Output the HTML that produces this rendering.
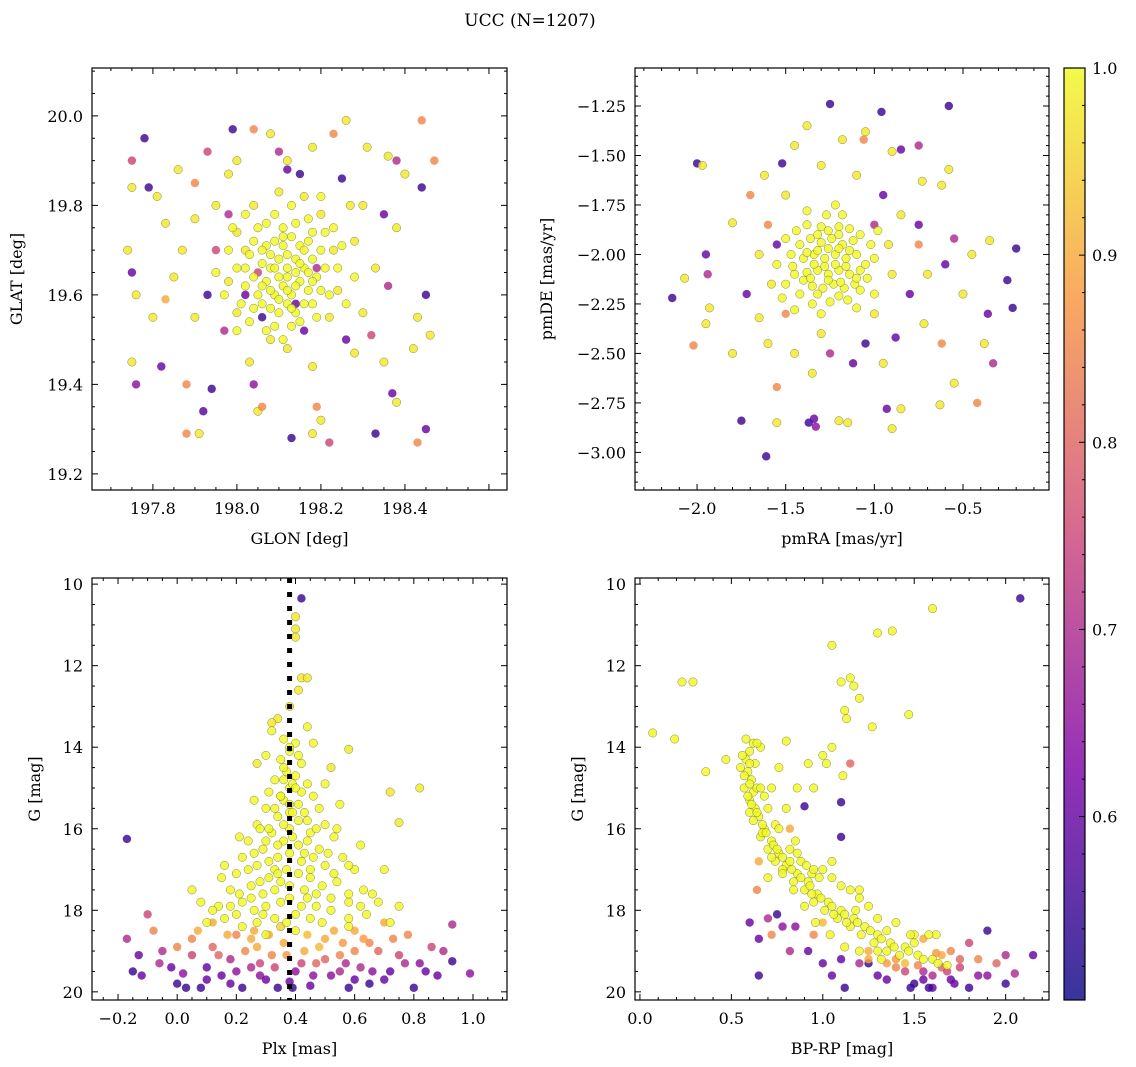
<!DOCTYPE html>
<html><head><meta charset="utf-8"><style>
html,body{margin:0;padding:0;background:#fff;}
svg{display:block;font-family:"DejaVu Serif","Liberation Serif",serif;}
</style></head><body>
<svg id="fig" width="1136" height="1067" viewBox="0 0 1136 1067" xmlns="http://www.w3.org/2000/svg">
<text x="530" y="26" font-size="17" text-anchor="middle">UCC (N=1207)</text>
</svg>
<script>
// ---- Panel 1: GLON / GLAT ----
const glonOut=[197.75,197.78,197.75,197.79,197.74,197.75,197.76,197.75,197.76,197.80,197.82,197.83,197.88,197.88,197.91,197.92,197.94,197.90,197.93,197.99,198.00,197.93,197.95,197.87,197.90,197.97,198.03,198.05,198.06,198.04,198.13,198.18,198.22,198.20,198.19,198.18,198.26,198.28,198.33,198.37,198.38,198.43,198.45,198.42,198.46,198.45,198.43,198.47,198.44,198.44,198.40,198.38,198.36,198.31,198.26,198.23,198.18,198.12,198.08,198.10,198.04,197.98,197.86,197.81,198.30,198.35,198.38,198.33,198.36,198.30,198.35,198.32,198.28,198.25,198.27,197.95,197.90,197.98,198.00,197.85,197.83,197.98,198.02,198.00,198.08,198.12,198.16,198.22,198.24,198.23,198.20,198.16,198.10,198.04,198.02,198.12,198.15,198.06,198.14,198.19,198.05];
const glatOut=[19.90,19.95,19.84,19.84,19.70,19.65,19.60,19.45,19.40,19.55,19.44,19.76,19.40,19.29,19.29,19.34,19.39,19.85,19.92,19.97,19.90,19.60,19.70,19.70,19.55,19.52,19.45,19.34,19.35,19.40,19.28,19.29,19.27,19.32,19.35,19.44,19.50,19.47,19.29,19.38,19.36,19.27,19.30,19.48,19.51,19.60,19.55,19.90,19.99,19.84,19.87,19.90,19.91,19.93,19.99,19.96,19.93,19.90,19.96,19.92,19.97,19.87,19.88,19.82,19.80,19.78,19.75,19.66,19.62,19.56,19.45,19.51,19.72,19.86,19.80,19.80,19.77,19.78,19.74,19.64,19.59,19.63,19.60,19.56,19.50,19.48,19.52,19.55,19.61,19.70,19.78,19.82,19.83,19.80,19.70,19.88,19.87,19.55,19.58,19.66,19.65];
const probOut1=[0.75,0.55,0.98,0.55,0.98,0.6,0.98,0.98,0.65,0.98,0.6,0.98,0.85,0.85,0.98,0.58,0.55,0.85,0.75,0.55,0.98,0.55,0.75,0.98,0.98,0.7,0.98,0.98,0.85,0.65,0.55,0.98,0.75,0.98,0.85,0.98,0.6,0.98,0.55,0.6,0.98,0.85,0.6,0.98,0.98,0.55,0.98,0.85,0.85,0.55,0.98,0.7,0.98,0.98,0.98,0.85,0.98,0.98,0.98,0.7,0.85,0.98,0.98,0.98,0.98,0.6,0.98,0.98,0.7,0.98,0.98,0.75,0.98,0.55,0.98,0.98,0.98,0.7,0.98,0.98,0.9,0.98,0.6,0.98,0.98,0.98,0.6,0.98,0.98,0.98,0.98,0.98,0.98,0.98,0.98,0.6,0.55,0.55,0.6,0.7,0.75];
const glonCore=[198.05,198.07,198.09,198.11,198.13,198.15,198.17,198.06,198.08,198.10,198.12,198.14,198.16,198.18,198.07,198.09,198.11,198.13,198.15,198.17,198.08,198.10,198.12,198.14,198.16,198.04,198.19,198.20,198.03,198.10,198.12,198.14,198.11,198.14,198.07,198.18,198.06,198.21,198.02,198.09,198.13,
198.02,198.04,198.06,198.08,198.10,198.12,198.14,198.16,198.18,198.20,198.05,198.09,198.13,198.17,198.21,198.00,198.01,198.03,198.07,198.11,198.15,198.19,198.22,198.24,198.23,197.98,197.97,198.08,198.12,198.15,198.09,198.06,198.17,198.13,198.11,198.18,198.04,198.25,197.99,198.26,198.02,198.20,197.95,198.28,198.00];
const glatCore=[19.60,19.63,19.60,19.62,19.60,19.63,19.61,19.67,19.66,19.68,19.66,19.68,19.66,19.68,19.71,19.72,19.71,19.73,19.71,19.72,19.57,19.56,19.58,19.56,19.58,19.64,19.64,19.70,19.69,19.64,19.64,19.65,19.75,19.76,19.76,19.58,19.58,19.66,19.66,19.53,19.53,
19.62,19.72,19.62,19.69,19.59,19.69,19.62,19.70,19.63,19.61,19.75,19.78,19.80,19.77,19.74,19.66,19.58,19.54,19.52,19.50,19.54,19.55,19.60,19.66,19.75,19.70,19.60,19.61,19.61,19.67,19.66,19.70,19.65,19.57,19.73,19.74,19.57,19.71,19.75,19.58,19.78,19.82,19.65,19.64,19.52];
const glonTicks=[197.8,198.0,198.2,198.4];
const glatTicks=[19.2,19.4,19.6,19.8,20.0];

// ---- Panel 2: pmRA / pmDE ----
const pmraOut=[-2.0,-1.97,-2.14,-2.07,-1.95,-1.94,-2.02,-1.95,-1.93,-1.75,-1.61,-1.55,-1.55,-1.37,-1.34,-1.33,-1.2,-1.15,-0.9,-0.93,-0.85,-0.63,-0.55,-0.42,-0.38,-0.33,-0.36,-0.22,-0.25,-0.2,-0.35,-0.55,-0.62,-0.58,-0.58,-0.73,-0.75,-0.85,-0.9,-0.96,-1.05,-1.06,-1.18,-1.25,-1.38,-1.45,-1.52,-1.62,-1.7,-1.8,-1.72,-1.65,-1.6,-1.45,-1.35,-1.12,-1.05,-0.95,-0.88,-0.72,-0.62,-0.8,-0.7,-0.6,-0.75,-0.85,-0.75,-0.95,-1.1,-1.3,-1.5,-1.6,-1.65,-1.58,-1.5,-1.3,-1.0,-0.9,-0.92,-1.0,-1.55,-1.25,-0.5,-0.45,-1.8];
const pmdeOut=[-1.54,-1.55,-2.22,-2.12,-2.0,-2.1,-2.46,-2.35,-2.27,-2.84,-3.02,-2.67,-2.85,-2.85,-2.83,-2.87,-2.84,-2.85,-2.88,-2.78,-2.78,-2.76,-2.65,-2.75,-2.45,-2.55,-2.3,-2.27,-2.13,-1.97,-1.93,-1.92,-1.65,-1.57,-1.25,-1.63,-1.45,-1.47,-1.48,-1.28,-1.38,-1.42,-1.42,-1.24,-1.35,-1.45,-1.54,-1.6,-1.7,-1.84,-2.2,-2.32,-2.45,-2.5,-2.6,-2.55,-2.45,-2.55,-2.42,-2.35,-2.45,-2.2,-2.1,-2.05,-1.95,-1.8,-1.85,-1.7,-1.6,-1.55,-1.7,-1.85,-2.0,-2.15,-2.3,-2.4,-2.3,-2.1,-1.95,-1.85,-1.95,-2.5,-2.2,-2.0,-2.5];
const probOut2=[0.55,0.98,0.55,0.98,0.6,0.7,0.85,0.98,0.98,0.55,0.55,0.85,0.98,0.55,0.6,0.65,0.98,0.98,0.98,0.6,0.98,0.98,0.98,0.85,0.98,0.7,0.6,0.55,0.55,0.55,0.98,0.7,0.98,0.98,0.55,0.98,0.7,0.6,0.98,0.55,0.98,0.85,0.98,0.55,0.98,0.98,0.55,0.98,0.85,0.98,0.6,0.98,0.98,0.98,0.98,0.6,0.55,0.98,0.6,0.98,0.85,0.6,0.98,0.6,0.85,0.98,0.6,0.6,0.98,0.98,0.98,0.85,0.98,0.98,0.85,0.98,0.98,0.98,0.98,0.7,0.6,0.7,0.98,0.98,0.98];
const pmraCore=[-1.42,-1.36,-1.30,-1.24,-1.18,-1.12,-1.40,-1.34,-1.28,-1.22,-1.16,-1.10,-1.38,-1.32,-1.26,-1.20,-1.14,-1.08,-1.35,-1.29,-1.23,-1.17,-1.11,-1.30,-1.20,-1.45,-1.05,-1.25,-1.15,-1.35,-1.27,-1.47,-1.02,
-1.44,-1.38,-1.32,-1.26,-1.20,-1.14,-1.08,-1.46,-1.40,-1.34,-1.28,-1.22,-1.16,-1.10,-1.04,-1.50,-1.42,-1.32,-1.20,-1.08,-1.26,-1.20,-1.32,-1.14,-1.38,-1.50,-1.55,-1.00,-1.45,-1.30,-1.10,-1.18,-1.38,-1.00,-1.52,-0.98,-1.26,-1.19,-1.36,-1.22];
const pmdeCore=[-1.95,-1.92,-1.94,-1.92,-1.95,-1.93,-2.02,-2.0,-2.02,-2.0,-2.02,-2.0,-2.09,-2.08,-2.10,-2.08,-2.10,-2.08,-2.16,-2.17,-2.15,-2.17,-2.15,-1.86,-1.86,-2.10,-2.05,-2.24,-2.23,-2.25,-1.80,-2.0,-1.95,
-1.88,-1.85,-1.90,-1.88,-1.90,-1.87,-1.90,-2.06,-2.13,-2.05,-2.06,-2.05,-2.06,-2.12,-2.12,-2.15,-2.20,-2.20,-2.21,-2.18,-1.97,-1.97,-1.98,-1.98,-1.99,-1.92,-2.05,-2.02,-2.28,-2.30,-2.27,-1.80,-1.78,-2.20,-2.22,-1.88,-2.13,-2.14,-2.12,-1.75];
const pmraTicks=[-2.0,-1.5,-1.0,-0.5];
const pmdeTicks=[-3.0,-2.75,-2.5,-2.25,-2.0,-1.75,-1.5,-1.25];

// ---- Panel 3: Plx / G ----
const plxVals=[0.42,0.40,0.40,0.40,0.42,0.44,0.41,0.34,0.32,0.38,0.58,0.72,0.82,0.75,-0.17,0.27,0.52,
-0.15,-0.13,-0.17,-0.1,-0.08,-0.05,-0.02,0.0,0.02,0.05,0.05,0.08,0.1,0.12,0.15,0.18,0.2,0.22,0.25,0.27,0.3,0.32,0.34,0.36,0.4,0.43,0.45,0.47,0.5,0.52,0.55,0.58,0.6,0.62,0.65,0.68,0.7,0.72,0.75,0.78,0.8,0.82,0.86,0.88,0.93,0.93,0.99,0.35,0.48,0.25,0.12,0.65,0.42,0.28,0.55,0.18,0.6,0.38,
-0.12,-0.06,0.0,0.03,0.07,0.1,0.14,0.17,0.2,0.23,0.28,0.31,0.33,0.37,0.39,0.44,0.46,0.5,0.53,0.57,0.6,0.63,0.66,0.7,0.73,0.77,0.84,0.9,0.56,0.26];
const gPlxVals=[10.35,10.8,11.1,11.3,12.3,12.3,12.6,13.3,13.4,13.0,14.05,15.1,15.0,15.85,16.25,14.4,14.5,
19.5,19.1,18.7,18.1,18.5,19.0,19.4,19.8,19.55,19.1,18.7,19.9,19.4,18.9,19.6,19.2,18.6,19.9,19.4,18.9,19.7,19.1,19.9,18.8,19.5,19.0,19.85,19.3,18.7,19.6,19.1,19.9,18.5,19.4,19.8,19.0,18.3,19.5,19.1,18.6,19.9,19.3,18.9,19.6,19.25,18.35,19.55,18.4,18.9,18.7,18.3,18.8,19.3,19.3,19.5,19.8,19.7,19.75,
19.6,19.3,18.9,19.9,18.5,19.7,19.1,18.6,19.5,19.0,19.6,18.6,19.4,19.1,19.9,18.6,19.6,19.2,18.5,19.3,19.0,18.7,19.5,19.7,18.7,19.3,19.5,19.0,18.8,18.5];
const probPlx=[0.55,0.98,0.98,0.98,0.98,0.98,0.98,0.98,0.98,0.98,0.98,0.98,0.98,0.98,0.55,0.98,0.98,
0.55,0.6,0.7,0.75,0.85,0.7,0.6,0.55,0.65,0.75,0.85,0.55,0.6,0.8,0.6,0.7,0.85,0.55,0.7,0.9,0.6,0.85,0.55,0.9,0.65,0.9,0.6,0.8,0.9,0.65,0.85,0.55,0.9,0.7,0.55,0.8,0.9,0.6,0.75,0.85,0.55,0.65,0.75,0.6,0.55,0.7,0.65,0.95,0.92,0.9,0.9,0.85,0.75,0.75,0.7,0.6,0.6,0.6,
0.6,0.7,0.85,0.55,0.9,0.6,0.8,0.9,0.65,0.85,0.65,0.9,0.75,0.88,0.55,0.92,0.65,0.8,0.9,0.7,0.85,0.88,0.65,0.6,0.85,0.7,0.6,0.7,0.88,0.9];
const plxCore=[0.36,0.40,0.38,0.35,0.42,0.37,0.40,0.33,0.44,0.38,0.31,0.46,0.36,0.41,0.30,0.48,0.38,0.34,0.44,0.27,0.50,0.38,0.32,0.45,0.24,0.53,0.36,0.41,0.29,0.48,0.22,0.56,0.34,0.42,0.27,0.50,0.20,0.60,0.37,0.31,0.45,0.25,0.54,0.18,0.63,0.38,0.29,0.47,0.22,0.58,0.14,0.68,0.35,0.42,0.26,0.52,0.16,0.64,0.33,0.45,0.10,0.72,0.22,0.58,0.05,0.70,0.15,0.62,0.26,0.50,0.30,0.46,0.28,0.55,0.40,0.30,0.33,0.43,0.39,0.35,0.44,
0.38,0.41,0.36,0.39,0.35,0.42,0.38,0.33,0.43,0.36,0.41,0.31,0.47,0.39,0.34,0.44,0.26,0.51,0.38,0.31,0.46,0.24,0.53,0.34,0.41,0.28,0.49,0.21,0.58,0.33,0.43,0.25,0.52,0.18,0.62,0.30,0.47,0.38,0.20,0.58,0.29,0.40,0.49,0.12,0.66,0.08,0.75,0.37,0.27,0.54,0.21,0.58,0.16,0.32,0.44,0.35,0.45,0.30,0.40,0.36];
const gPlxCore=[13.8,13.9,14.1,14.3,14.4,14.6,14.7,14.8,14.9,15.0,15.1,15.2,15.3,15.4,15.5,15.5,15.6,15.7,15.8,15.9,15.9,16.0,16.1,16.1,16.3,16.2,16.3,16.4,16.5,16.5,16.7,16.7,16.7,16.8,16.9,16.9,17.1,17.0,17.0,17.2,17.2,17.4,17.3,17.5,17.5,17.4,17.6,17.6,17.8,17.8,17.9,17.8,17.8,17.9,18.0,18.0,18.2,18.1,18.2,18.2,18.3,18.3,18.4,18.4,17.5,17.0,17.2,16.4,15.3,14.9,14.2,13.9,16.0,15.4,18.5,18.6,17.0,16.6,15.6,15.2,17.7,
14.0,14.2,14.5,14.9,15.2,15.1,15.4,15.5,15.6,15.9,15.8,16.0,16.0,16.2,16.4,16.3,16.6,16.6,16.6,16.8,16.7,17.0,17.1,17.1,17.1,17.3,17.4,17.6,17.6,17.5,17.5,17.7,17.7,17.9,17.9,17.9,17.9,17.7,18.1,18.2,18.1,18.1,18.3,18.0,17.6,17.8,17.9,18.3,18.3,16.0,16.2,16.9,16.9,13.6,13.5,17.3,17.0,16.3,15.0,14.8];
const plxTicks=[-0.2,0.0,0.2,0.4,0.6,0.8,1.0];
const gTicks=[10,12,14,16,18,20];
const plxCluster=[0.38];

// ---- Panel 4: BP-RP / G ----
const bprpMem=[0.58,0.62,0.60,0.58,0.63,0.59,0.61,0.57,0.62,0.60,0.63,0.65,0.62,0.68,0.66,0.72,0.70,0.76,0.74,0.80,0.78,0.86,0.84,0.92,0.90,0.97,0.95,1.03,1.01,1.10,1.08,1.17,1.15,1.23,1.21,1.30,1.28,1.37,1.35,1.45,1.42,1.52,1.60,1.68,0.55,0.66,0.68,0.74,0.82,0.88,0.70,0.98,1.15,1.25,1.40,1.05,1.0,1.05,1.02,0.92,0.95,1.15,1.17,1.20,1.12,1.13,1.10,1.30,1.38,1.05,0.23,0.29,0.07,0.36,1.47,1.60,0.80,0.19,0.64,0.60,0.67,0.72,0.78,0.84,0.90,0.96,1.04,1.12,1.20,1.32,1.50,0.47,1.20,1.27,1.11,1.62,0.76,0.86,0.94,
0.56,0.60,0.57,0.60,0.59,0.61,0.64,0.67,0.69,0.73,0.75,0.78,0.82,0.83,0.88,0.93,0.94,0.99,1.05,1.06,1.12,1.13,1.19,1.26,1.32,1.39,1.47,1.55,1.63,0.66,0.70,0.76,0.80,0.85,0.86,0.91,0.95,1.00,1.05,1.10,1.20,1.18,1.30,1.35,1.48,1.58,1.30,1.50,0.64,0.72];
const gBprpMem=[13.8,13.9,14.1,14.3,14.4,14.6,14.8,15.0,15.1,15.3,15.5,15.7,15.8,16.0,16.2,16.3,16.5,16.6,16.8,16.9,17.0,17.1,17.3,17.3,17.5,17.6,17.8,17.8,18.0,18.0,18.2,18.2,18.4,18.4,18.6,18.6,18.8,18.8,19.0,18.9,19.1,19.1,19.2,19.35,14.5,14.0,15.2,15.9,16.5,16.8,17.2,17.2,17.5,17.9,18.3,16.8,14.2,14.0,14.4,14.4,15.0,12.3,12.5,12.8,13.1,13.3,12.4,11.2,11.15,11.5,12.4,12.4,13.65,14.6,13.2,10.6,13.85,13.8,15.0,15.6,16.1,16.7,17.1,17.5,17.9,18.3,18.6,18.9,19.0,19.2,18.6,14.3,17.5,13.5,14.7,18.6,14.5,15.0,17.1,
14.2,14.4,14.7,14.9,15.2,15.4,15.6,15.9,16.1,16.4,16.5,16.7,16.8,17.0,17.2,17.4,17.6,17.7,17.9,18.1,18.1,18.3,18.3,18.5,18.7,18.9,19.0,19.2,19.3,15.0,15.5,16.0,15.5,16.3,16.6,16.9,17.0,17.0,17.2,17.4,17.7,18.0,18.2,18.5,18.6,18.6,19.0,18.8,13.9,15.0];
const bprpOut=[2.08,1.15,1.1,0.9,0.82,0.65,0.64,0.7,0.65,0.65,0.82,0.95,1.1,1.12,1.2,1.3,1.4,1.5,1.55,1.6,1.65,1.7,1.75,1.8,1.85,1.9,1.95,2.0,2.05,2.15,1.9,1.8,1.55,1.45,1.35,1.25,1.0,0.85,1.7,2.0,1.1,0.6,0.75,1.25,
1.4,1.45,1.52,1.6,1.65,1.72,1.58,1.68,1.62,1.75,1.48,1.85,1.55,1.35,1.25,0.72,0.78,0.92,1.0,1.05];
const gBprpOut=[10.35,14.4,15.35,15.45,16.0,16.8,17.5,18.2,18.7,19.6,19.0,18.6,19.2,19.9,19.3,19.6,19.4,19.8,19.5,19.9,19.1,19.7,19.4,19.9,19.2,19.6,19.3,19.8,19.55,19.1,18.5,18.8,18.7,19.3,19.7,19.0,18.3,18.4,19.0,19.1,16.2,18.3,18.1,19.3,
19.2,19.5,19.35,19.6,19.4,19.8,19.9,19.5,19.05,19.2,19.9,19.6,19.7,19.3,19.2,18.6,18.4,19.0,19.3,19.6];
const probBprpOut=[0.55,0.8,0.55,0.55,0.9,0.9,0.85,0.7,0.6,0.55,0.7,0.85,0.6,0.55,0.7,0.6,0.85,0.55,0.7,0.6,0.9,0.6,0.75,0.55,0.85,0.65,0.8,0.55,0.7,0.6,0.55,0.75,0.9,0.92,0.6,0.9,0.92,0.65,0.85,0.7,0.55,0.6,0.55,0.55,
0.88,0.75,0.85,0.7,0.8,0.6,0.55,0.75,0.88,0.8,0.55,0.65,0.6,0.88,0.9,0.85,0.65,0.6,0.6,0.6];
const bprpTicks=[0.0,0.5,1.0,1.5,2.0];

// ---- Colorbar ----
const cbarTicks=[0.6,0.7,0.8,0.9,1.0];
const pMin=0.502, pMax=1.0;

const NS='http://www.w3.org/2000/svg';
const svg=document.getElementById('fig');
function mk(tag,attrs,parent){const e=document.createElementNS(NS,tag);for(const k in attrs)e.setAttribute(k,attrs[k]);(parent||svg).appendChild(e);return e;}

const stops=[[0,[13,8,135]],[0.25,[126,3,168]],[0.5,[204,71,120]],[0.75,[248,149,64]],[1,[240,249,33]]];
function plasma(t){t=Math.max(0,Math.min(1,t));for(let i=1;i<stops.length;i++){if(t<=stops[i][0]){const a=stops[i-1],b=stops[i];const f=(t-a[0])/(b[0]-a[0]);const c=a[1].map((v,j)=>Math.round(v+(b[1][j]-v)*f));return 'rgb('+c.join(',')+')';}}return 'rgb(240,249,33)';}
function pcol(p){return plasma((p-pMin)/(pMax-pMin));}

function makePanel(name,box,xr,yr,xTicks,yTicks,xMinorN,yMinorN,xLabel,yLabel,xFmt,yFmt,yLabX){
  const g=mk('g',{});
  
  
  const sx=v=>box.x0+(v-xr[0])/(xr[1]-xr[0])*(box.x1-box.x0);
  const sy=v=>box.y1-(v-yr[0])/(yr[1]-yr[0])*(box.y1-box.y0);
  const clipId=name+'-clip';
  const cp=mk('clipPath',{id:clipId},g);mk('rect',{x:box.x0,y:box.y0,width:box.x1-box.x0,height:box.y1-box.y0},cp);
  const marks=mk('g',{'clip-path':'url(#'+clipId+')'},g);
  
  
  const axg=mk('g',{stroke:'#000','stroke-width':1},g);
  
  
  const xstep=xTicks[1]-xTicks[0];
  for(let k=-2;k<xTicks.length+2;k++){
    const v0=xTicks[0]+k*xstep;
    for(let m=0;m<xMinorN;m++){
      const v=v0+m*xstep/xMinorN;const X=sx(v);
      if(X<box.x0-0.1||X>box.x1+0.1)continue;
      const L=m===0?6:3;
      mk('line',{x1:X,x2:X,y1:box.y1,y2:box.y1-L},axg);
      mk('line',{x1:X,x2:X,y1:box.y0,y2:box.y0+L},axg);
    }
  }
  const ystep=yTicks[1]-yTicks[0];
  for(let k=-2;k<yTicks.length+2;k++){
    const v0=yTicks[0]+k*ystep;
    for(let m=0;m<yMinorN;m++){
      const v=v0+m*ystep/yMinorN;const Y=sy(v);
      if(Y<box.y0-0.1||Y>box.y1+0.1)continue;
      const L=m===0?6:3;
      mk('line',{x1:box.x0,x2:box.x0+L,y1:Y,y2:Y},axg);
      mk('line',{x1:box.x1,x2:box.x1-L,y1:Y,y2:Y},axg);
    }
  }
  mk('rect',{x:box.x0,y:box.y0,width:box.x1-box.x0,height:box.y1-box.y0,fill:'none',stroke:'#000','stroke-width':1.2},g);
  xTicks.forEach(v=>{const t=mk('text',{x:sx(v),y:box.y1+24,'font-size':16,'text-anchor':'middle'},g);t.textContent=xFmt(v);
    
    });
  yTicks.forEach(v=>{const t=mk('text',{x:box.x0-9,y:sy(v)+6,'font-size':16,'text-anchor':'end'},g);t.textContent=yFmt(v);
    
    });
  const xl=mk('text',{x:(box.x0+box.x1)/2,y:box.y1+54,'font-size':16,'text-anchor':'middle'},g);xl.textContent=xLabel;
  
  
  const yc=(box.y0+box.y1)/2;
  const yl=mk('text',{x:yLabX,y:yc,'font-size':16,'text-anchor':'middle',transform:'rotate(-90 '+yLabX+' '+yc+')'},g);yl.textContent=yLabel;
  
  
  return {sx,sy,marks,g};
}
function dot(P,x,y,p){
  const mem=p>=0.95;
  const c=mk('circle',{cx:P.sx(x),cy:P.sy(y),r:4.2,fill:pcol(p),'fill-opacity':0.82},P.marks);
  if(mem){c.setAttribute('stroke','#6a6a3a');c.setAttribute('stroke-width',0.5);c.setAttribute('stroke-opacity',0.8);}
  
  
}
const neg=s=>s.replace('-','\u2212');
const f1=v=>neg(v.toFixed(1)), f2=v=>neg(v.toFixed(2)), f0=v=>String(v);

const P1=makePanel('glon-glat-panel',{x0:92,x1:507,y0:68,y1:490},[197.655,198.643],[19.164,20.107],glonTicks,glatTicks,4,4,'GLON [deg]','GLAT [deg]',f1,f1,22);
glonOut.forEach((x,i)=>dot(P1,x,glatOut[i],probOut1[i]));
glonCore.forEach((x,i)=>dot(P1,x,glatCore[i],1.0));
const P2=makePanel('pmra-pmde-panel',{x0:635,x1:1049,y0:68,y1:490},[-2.35,-0.015],[-3.19,-1.058],pmraTicks,pmdeTicks,5,5,'pmRA [mas/yr]','pmDE [mas/yr]',f1,f2,552);
pmraOut.forEach((x,i)=>dot(P2,x,pmdeOut[i],probOut2[i]));
pmraCore.forEach((x,i)=>dot(P2,x,pmdeCore[i],1.0));
const P3=makePanel('plx-g-panel',{x0:92,x1:507,y0:578,y1:1000},[-0.288,1.115],[20.2,9.85],plxTicks,gTicks,4,4,'Plx [mas]','G [mag]',f1,f0,40);
plxVals.forEach((x,i)=>dot(P3,x,gPlxVals[i],probPlx[i]));
plxCore.forEach((x,i)=>dot(P3,x,gPlxCore[i],1.0));
plxCluster.forEach(v=>{const l=mk('line',{x1:P3.sx(v),x2:P3.sx(v),y1:578,y2:1000,stroke:'#000','stroke-width':5,'stroke-dasharray':'5 9'},P3.marks);
  
  });
const P4=makePanel('bprp-g-panel',{x0:635,x1:1049,y0:578,y1:1000},[-0.027,2.237],[20.2,9.85],bprpTicks,gTicks,5,4,'BP-RP [mag]','G [mag]',f1,f0,583);
bprpOut.forEach((x,i)=>dot(P4,x,gBprpOut[i],probBprpOut[i]));
bprpMem.forEach((x,i)=>dot(P4,x,gBprpMem[i],1.0));

const cb=mk('g',{});


const defs=mk('defs',{},cb);
const lg=mk('linearGradient',{id:'cbg',x1:0,y1:1,x2:0,y2:0},defs);
for(let i=0;i<=20;i++){mk('stop',{offset:i/20,'stop-color':plasma(i/20)},lg);}
const cbx0=1064,cbx1=1085,cby0=68,cby1=1000;
mk('rect',{x:cbx0,y:cby0,width:cbx1-cbx0,height:cby1-cby0,fill:'url(#cbg)','fill-opacity':0.82},cb);
mk('rect',{x:cbx0,y:cby0,width:cbx1-cbx0,height:cby1-cby0,fill:'none',stroke:'#000','stroke-width':1.2},cb);
const cy=v=>cby1-(v-pMin)/(pMax-pMin)*(cby1-cby0);
for(let v=0.52;v<1.0001;v+=0.02){const Y=cy(v);const major=Math.abs(v*10-Math.round(v*10))<0.001;
  mk('line',{x1:cbx1,x2:cbx1-(major?6:3),y1:Y,y2:Y,stroke:'#000','stroke-width':1},cb);}
cbarTicks.forEach(v=>{const t=mk('text',{x:1092,y:cy(v)+6,'font-size':16},cb);t.textContent=v.toFixed(1);
  
  });
</script>
</body></html>
